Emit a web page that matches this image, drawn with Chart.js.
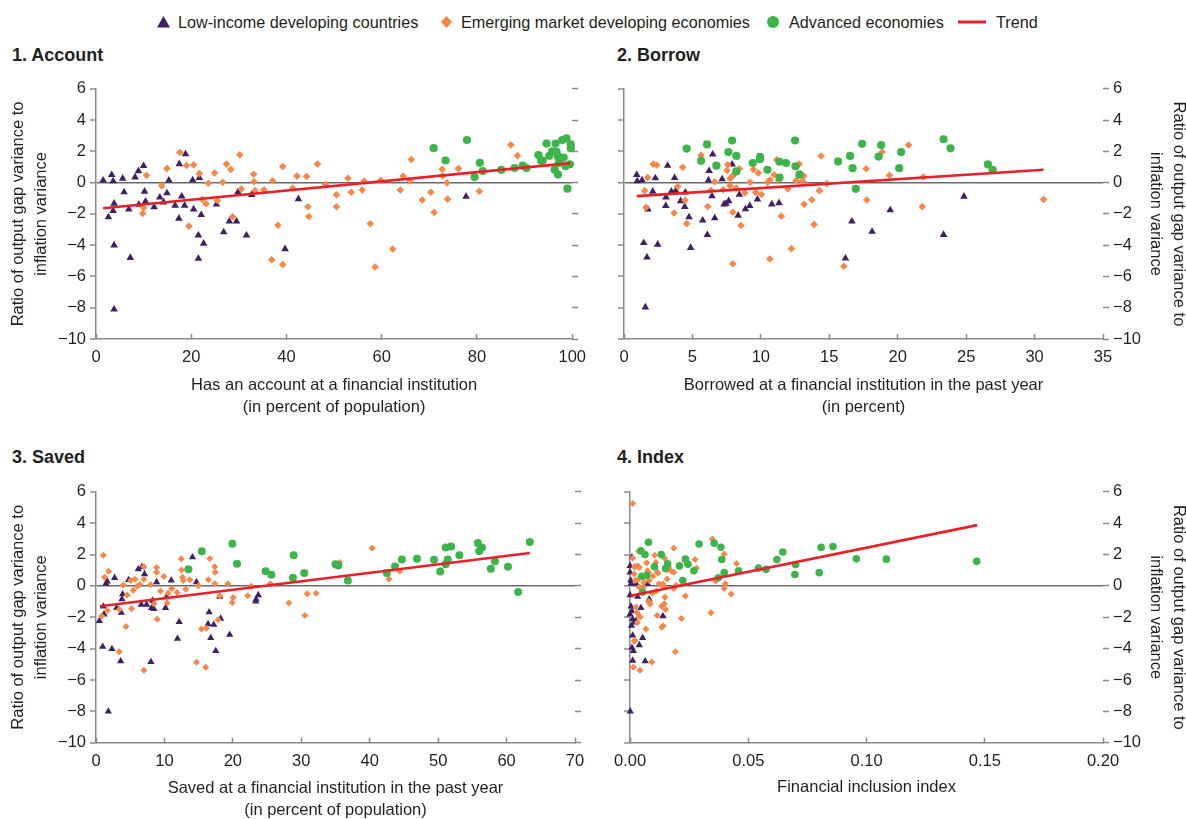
<!DOCTYPE html>
<html><head><meta charset="utf-8">
<script src="https://cdn.jsdelivr.net/npm/chart.js@4.4.0/dist/chart.umd.min.js"></script>
<style>
html,body{margin:0;padding:0;background:#fff;overflow:hidden;width:1186px;height:819px;}
body{position:relative;font-family:'Liberation Sans',Arial,sans-serif;color:#231f20;}
canvas{position:absolute;}
.ptitle{position:absolute;font-weight:bold;font-size:18px;line-height:18px;white-space:nowrap;}
.leg{position:absolute;font-size:16.2px;line-height:16.2px;white-space:nowrap;top:14px;}
.mk{position:absolute;}
</style></head>
<body>
<svg class="mk" style="left:157px;top:16px" width="13" height="12"><polygon points="0,11.5 6.5,0 13,11.5" fill="#3f2163"/></svg>
<span class="leg" style="left:178px">Low-income developing countries</span>
<svg class="mk" style="left:441px;top:16px" width="11" height="12"><polygon points="5.5,0 11,6 5.5,12 0,6" fill="#f5874a"/></svg>
<span class="leg" style="left:461px">Emerging market developing economies</span>
<svg class="mk" style="left:767px;top:16px" width="12" height="12"><circle cx="6" cy="6" r="6" fill="#3bb54a"/></svg>
<span class="leg" style="left:789px">Advanced economies</span>
<svg class="mk" style="left:958px;top:20px" width="28" height="4"><rect x="0" y="0.5" width="28" height="3" fill="#e8202a"/></svg>
<span class="leg" style="left:996px">Trend</span>

<div class="ptitle" style="left:12px;top:45.5px">1. Account</div>
<div class="ptitle" style="left:617px;top:45.5px">2. Borrow</div>
<div class="ptitle" style="left:12px;top:447.5px">3. Saved</div>
<div class="ptitle" style="left:617px;top:447.5px">4. Index</div>

<canvas id="c1" width="600" height="345" style="left:0;top:75px"></canvas>
<canvas id="c2" width="590" height="345" style="left:600px;top:75px"></canvas>
<canvas id="c3" width="600" height="344" style="left:0;top:478px"></canvas>
<canvas id="c4" width="590" height="344" style="left:600px;top:478px"></canvas>

<script>
// ---------- series names ----------
const seriesNames = ['Low-income developing countries', 'Emerging market developing economies', 'Advanced economies', 'Trend'];
const yTitleText = ['Ratio of output gap variance to', 'inflation variance'];

// ---------- Panel 1: Account ----------
const acctLIDC = [[1.5,0.15],[2.6,-2.2],[3.3,0.5],[3.6,0.1],[3.8,-1.33],[3.6,-1.8],[3.8,-4.0],[3.8,-8.1],[5.6,0.27],[5.9,-0.6],[6.9,-1.7],[7.2,-4.8],[8.2,0.35],[8.9,0.75],[9.0,-1.4],[10.0,1.08],[10.2,-0.56],[10.4,-1.2],[12.2,-1.56],[13.4,-0.94],[14.2,-1.25],[14.9,-0.67],[15.3,0.15],[16.6,-1.46],[17.4,-2.29],[17.5,1.2],[18.0,-0.87],[18.6,-1.46],[18.8,1.83],[20.3,0.17],[20.5,-1.7],[21.5,-3.37],[21.5,-4.86],[21.7,0.31],[22.1,-2.06],[22.6,-3.89],[25.3,-1.39],[26.8,-3.16],[28.0,-2.47],[29.5,-2.47],[29.8,-0.6],[31.6,-3.37],[32.7,-0.77],[39.7,-4.24],[42.5,-1.04],[77.7,-0.89]];
const acctEMDE = [[17.6,1.93],[19.0,1.1],[20.5,1.14],[10.6,0.48],[10.0,-1.6],[9.8,-1.97],[13.8,-0.2],[14.9,0.9],[19.5,-2.78],[21.7,0.58],[22.3,-1.08],[23.1,-1.35],[23.6,-0.04],[24.9,0.62],[25.5,-1.14],[26.6,0.02],[27.4,1.19],[28.3,0.85],[28.7,-2.18],[30.2,1.79],[30.5,-0.4],[33.1,0.54],[33.2,0.06],[33.4,-0.5],[35.3,-0.46],[37.1,0.12],[36.9,-4.93],[38.2,-2.72],[39.2,1.04],[39.2,-5.24],[41.3,-0.35],[42.2,0.42],[44.2,0.4],[44.5,-1.54],[44.7,-2.16],[46.5,1.2],[48.2,-0.12],[50.5,-0.77],[50.5,-1.54],[52.9,0.28],[53.6,-0.61],[55.9,-0.47],[56.3,0.11],[57.6,-2.63],[58.6,-5.39],[59.8,0.15],[62.3,-4.25],[63.9,-0.47],[64.5,0.41],[65.9,0.11],[66.2,1.48],[68.5,-1.11],[70.3,-0.61],[71.0,-1.9],[72.7,0.86],[72.8,0.44],[73.7,-0.01],[73.8,-1.05],[76.1,0.9],[80.5,-0.55],[87.1,2.42],[88.5,1.73]];
const acctAE = [[70.9,2.21],[73.4,1.42],[77.9,2.73],[79.5,0.36],[80.6,1.27],[81.2,0.74],[85.1,0.82],[87.9,0.94],[89.6,1.1],[90.4,0.94],[92.9,1.77],[93.5,1.38],[93.8,1.42],[94.6,2.5],[95.2,1.72],[95.8,2.01],[96.5,2.5],[96.7,1.97],[97.0,1.68],[97.2,1.27],[96.3,0.83],[97.0,0.52],[97.9,2.73],[98.8,2.83],[98.2,1.6],[98.6,1.06],[99.5,1.18],[99.7,2.45],[99.7,2.2],[99.0,-0.38]];
const acctTrend = [[1.5,-1.64],[99.6,1.25]];

// ---------- Panel 2: Borrow ----------
const borrowLIDC = [[0.93,0.51],[0.97,0.1],[1.32,0.16],[1.44,-3.85],[1.68,-4.78],[1.75,-1.71],[1.56,-7.97],[2.1,-0.56],[2.29,0.29],[2.46,-3.95],[3.07,-0.93],[3.05,-1.48],[3.19,1.09],[3.46,-0.56],[3.7,0.31],[3.78,-0.51],[4.14,-1.17],[4.48,-0.62],[4.44,-1.54],[4.75,-2.2],[4.87,-4.16],[5.75,-2.41],[6.09,-3.34],[6.17,0.16],[6.22,0.76],[6.43,-0.86],[6.48,1.81],[6.63,-2.27],[7.17,0.23],[7.31,-1.38],[7.46,-1.34],[7.65,-1.17],[7.9,1.17],[8.34,-2.1],[8.43,-0.76],[8.87,-1.69],[9.19,-1.48],[9.75,-1.07],[10.8,-1.38],[11.33,-1.3],[16.18,-4.84],[16.65,-2.47],[18.13,-3.13],[19.45,-1.75],[24.84,-0.88],[23.35,-3.33]];
const borrowEMDE = [[1.51,-0.51],[1.61,-1.59],[1.73,0.33],[2.14,1.19],[2.39,1.13],[3.66,-1.94],[3.92,-0.25],[4.29,0.99],[4.46,-1.13],[4.58,-2.62],[5.63,1.75],[6.12,-1.52],[6.34,-0.49],[6.63,0.06],[7.26,-0.45],[7.53,0.78],[7.58,1.15],[7.75,-0.19],[7.75,0.27],[7.92,0.41],[8.04,0.54],[7.95,-1.89],[7.95,-5.19],[8.19,-0.35],[8.43,0.89],[8.55,-2.74],[8.82,-0.66],[9.21,0.02],[9.46,0.84],[9.63,-0.62],[9.82,0.62],[10.04,-0.76],[10.5,0.02],[10.65,-4.88],[10.67,0.19],[10.97,0.51],[11.16,1.46],[11.3,0.16],[11.5,-2.14],[11.97,-0.39],[12.23,-4.22],[12.58,0.14],[12.8,1.19],[12.89,0.58],[13.04,0.1],[13.14,0.43],[13.16,-1.38],[13.72,-1.09],[13.89,-2.68],[14.28,-0.51],[14.4,1.71],[14.82,-0.06],[16.06,-5.35],[17.69,0.89],[17.74,-1.11],[18.86,1.96],[19.4,0.47],[20.79,2.41],[21.8,-1.54],[21.87,0.37],[30.66,-1.07]];
const borrowAE = [[4.58,2.18],[5.63,1.4],[6.07,2.45],[6.75,1.09],[7.63,1.96],[7.9,2.7],[8.21,1.71],[8.21,0.72],[9.41,1.26],[9.94,1.65],[9.94,1.5],[10.48,0.82],[11.36,1.34],[11.36,0.33],[11.84,1.26],[12.5,2.7],[12.53,1.05],[12.82,0.51],[15.65,1.36],[16.52,1.71],[16.7,0.93],[16.94,-0.39],[17.4,2.49],[18.6,1.67],[18.79,2.41],[20.25,1.96],[20.11,0.93],[23.35,2.78],[23.86,2.2],[26.59,1.17],[26.93,0.82]];
const borrowTrend = [[0.93,-0.86],[30.66,0.83]];

// ---------- Panel 3: Saved ----------
const savedLIDC = [[0.49,-2.23],[0.97,-3.88],[1.07,-1.3],[1.17,-1.81],[1.46,0.14],[1.65,0.29],[1.8,-8.0],[2.33,-4.02],[2.72,0.52],[3.01,-1.4],[3.6,-4.8],[3.69,-1.71],[3.79,-0.85],[3.89,-0.52],[4.76,0.39],[6.17,1.07],[6.61,-1.2],[6.71,1.22],[7.1,0.76],[7.39,-1.2],[8.12,-1.4],[8.26,-0.93],[8.46,-1.46],[8.02,-4.85],[8.85,0.25],[10.16,-1.4],[10.3,-0.72],[10.99,0.35],[11.91,-3.36],[12.15,-2.29],[14.1,1.84],[14.68,0.25],[16.53,-1.67],[16.38,-2.43],[16.77,-3.32],[17.21,-2.47],[17.5,-4.14],[18.08,-0.68],[18.23,-2.08],[19.54,-3.11],[23.34,-0.99],[23.4,-0.85],[23.72,-0.58]];
const savedEMDE = [[1.07,1.96],[0.83,-1.92],[1.26,0.56],[1.65,-1.57],[1.85,0.93],[3.4,-4.19],[3.99,0.06],[4.38,-2.58],[4.57,-0.58],[3.4,-1.5],[5.06,0.35],[5.2,-1.46],[5.44,-0.27],[5.69,0.43],[6.03,-0.02],[6.42,0.1],[7.0,1.22],[7.0,0.43],[7.0,-5.38],[7.97,0.08],[8.46,-1.13],[8.85,1.18],[8.85,0.87],[8.95,-2.12],[9.43,-0.33],[9.92,0.6],[10.4,-1.09],[10.55,-0.47],[11.08,-0.16],[11.86,-0.41],[12.45,1.73],[12.5,1.01],[12.64,0.56],[12.74,0.35],[13.13,-0.21],[13.71,0.39],[14.97,0.02],[14.68,-4.87],[15.41,-2.74],[16.14,-2.7],[16.04,-5.18],[16.43,0.39],[16.63,1.75],[17.36,1.22],[17.41,0.87],[17.36,0.14],[17.84,-2.16],[18.08,-0.64],[19.25,0.14],[19.93,-1.05],[20.03,-0.74],[22.17,-0.62],[22.7,-0.02],[25.47,0.14],[28.2,-1.09],[30.53,-1.88],[30.87,-0.49],[32.18,-0.47],[35.6,1.49],[40.35,2.41],[42.8,0.45],[44.4,0.93]];
const savedAE = [[13.51,1.07],[15.46,2.21],[19.93,2.7],[20.61,1.42],[24.79,0.93],[25.62,0.72],[28.88,1.96],[28.78,0.52],[30.43,0.82],[35.0,1.38],[35.39,1.3],[36.8,0.35],[42.5,0.83],[43.7,1.24],[44.7,1.69],[46.9,1.73],[49.4,1.67],[50.3,0.92],[51.1,1.38],[51.1,2.45],[51.4,1.69],[51.9,2.52],[53.1,1.96],[55.8,2.74],[56.0,2.23],[56.4,2.45],[57.7,1.09],[58.3,1.57],[60.2,1.22],[61.7,-0.39],[63.4,2.8]];
const savedTrend = [[0.58,-1.3],[63.4,2.1]];

// ---------- Panel 4: Index ----------
const indexLIDC = [[0.0001,-8.0],[0.0008,1.84],[0.0,1.28],[0.0,0.87],[0.0003,0.35],[0.0004,0.14],[0.0,-0.58],[0.0004,-1.3],[0.0008,-1.61],[0.0,-1.81],[0.0011,-2.12],[0.0018,-2.33],[0.0025,-2.23],[0.0006,-2.54],[0.0011,-3.15],[0.0008,-3.94],[0.0014,-4.14],[0.0011,-4.76],[0.0039,-3.77],[0.0053,-3.32],[0.0064,-4.8],[0.0046,-1.4],[0.0081,-0.85],[0.0139,-1.92],[0.0032,-0.68],[0.0025,0.14],[0.0074,0.14]];
const indexEMDE = [[0.0011,5.26],[0.0036,2.21],[0.0011,1.79],[0.007,1.48],[0.0104,1.96],[0.0109,1.5],[0.0185,2.41],[0.0147,1.75],[0.0175,0.93],[0.0185,0.87],[0.0275,1.69],[0.0281,1.13],[0.0348,2.99],[0.0398,2.04],[0.045,1.44],[0.0157,0.45],[0.0122,0.14],[0.0081,0.35],[0.0039,1.18],[0.0018,1.22],[0.0022,0.35],[0.0039,-0.06],[0.0195,0.04],[0.0234,-0.64],[0.0185,-0.16],[0.0147,-0.72],[0.0145,-1.13],[0.0134,-1.3],[0.015,-1.5],[0.0081,-1.05],[0.0085,-1.15],[0.0115,-1.88],[0.0134,-2.64],[0.014,-2.55],[0.0217,-2.08],[0.0192,-4.19],[0.0342,-1.71],[0.0362,0.31],[0.0398,-0.16],[0.0403,0.14],[0.0428,-0.52],[0.0067,-2.74],[0.0039,-1.92],[0.0025,-1.34],[0.003,-1.7],[0.0018,-3.53],[0.0014,-5.18],[0.0042,-5.38],[0.0092,-4.85],[0.0056,-0.06],[0.0095,-0.47],[0.0074,0.97],[0.0115,0.87],[0.0143,-0.06],[0.0164,1.18],[0.0024,1.24],[0.0033,1.28],[0.0018,0.76],[0.0033,0.41],[0.0058,0.24],[0.0078,0.83],[0.0097,0.62],[0.0118,0.83],[0.0156,1.04],[0.0139,0.12],[0.0111,-0.33],[0.0079,-0.98],[0.002,-3.46],[0.0031,-2.33],[0.0042,-1.98]];
const indexAE = [[0.0078,2.78],[0.0046,2.25],[0.0063,2.0],[0.0132,2.0],[0.0103,1.22],[0.0159,1.42],[0.015,1.11],[0.0209,1.28],[0.0234,1.71],[0.0245,1.38],[0.0223,0.35],[0.027,0.97],[0.0292,2.68],[0.0356,2.72],[0.0384,2.47],[0.0388,1.69],[0.0398,0.85],[0.0373,0.52],[0.0459,0.97],[0.005,0.62],[0.007,0.66],[0.0053,-0.39],[0.0543,1.14],[0.0575,1.06],[0.0621,1.68],[0.0646,2.17],[0.07,1.37],[0.0697,0.73],[0.08,0.85],[0.0808,2.46],[0.0858,2.52],[0.0957,1.73],[0.1084,1.71],[0.1466,1.57]];
const indexTrend = [[0.0003,-0.62],[0.1468,3.88]];

// ---------- styling ----------
const FONT = "'Liberation Sans',Arial,sans-serif";
const FS = 16.5;
const PURPLE = '#3f2163', ORANGE = '#f5874a', GREEN = '#3bb54a', RED = '#e8202a';
const AXIS = '#8a8a8a', ZERO = '#6a6a6a', TXT = '#231f20';
Chart.defaults.font.family = FONT;
Chart.defaults.color = TXT;

const xy = a => a.map(([x, y]) => ({x, y}));
const yFmt = v => v < 0 ? '\u2212' + Math.abs(v) : String(v);

function buildPanel(id, p) {
  const yTicks = show => ({stepSize: 2, display: show, padding: 4, color: TXT, font: {size: FS}, callback: yFmt});
  const yTitle = (show, pad) => ({display: show, text: yTitleText, color: TXT, font: {size: FS, lineHeight: 1.36}, padding: {top: pad, bottom: 0}});
  new Chart(document.getElementById(id), {
    type: 'scatter',
    data: {datasets: [
      {label: seriesNames[3], data: xy(p.trend), showLine: true, borderColor: RED, borderWidth: 2.6, pointRadius: 0, order: 0, clip: false},
      {label: seriesNames[2], data: xy(p.ae), pointStyle: 'circle', pointRadius: p.r[2], backgroundColor: GREEN, borderColor: GREEN, pointBorderWidth: 0, order: 1, clip: false},
      {label: seriesNames[1], data: xy(p.emde), pointStyle: 'rectRot', pointRadius: p.r[1], backgroundColor: ORANGE, borderColor: ORANGE, pointBorderWidth: 0, order: 2, clip: false},
      {label: seriesNames[0], data: xy(p.lidc), pointStyle: 'triangle', pointRadius: p.r[0], backgroundColor: PURPLE, borderColor: PURPLE, pointBorderWidth: 0, order: 3, clip: false}
    ]},
    options: {
      responsive: false, devicePixelRatio: 1, animation: false,
      layout: {padding: {top: p.padTop, left: 0, right: 0, bottom: 0}},
      plugins: {legend: {display: false}, tooltip: {enabled: false}, title: {display: false}},
      scales: {
        x: {
          type: 'linear', position: 'bottom', min: p.xMin, max: p.xMax,
          afterFit: s => { s.height = p.xH; },
          ticks: {stepSize: p.xStep, autoSkip: false, maxRotation: 0, padding: 14, color: TXT, font: {size: FS}, callback: p.xFmt},
          grid: {drawOnChartArea: false, drawTicks: true, tickLength: -5, tickColor: AXIS, tickWidth: 1.5},
          border: {display: true, color: AXIS, width: 1.5},
          title: {display: true, text: p.xTitle, color: TXT, font: {size: FS, lineHeight: 1.36}, padding: {top: 0, bottom: p.xTitlePad}}
        },
        y: {
          type: 'linear', position: 'left', min: -10, max: 6,
          afterFit: s => { s.width = p.yW; },
          ticks: yTicks(p.labelsLeft),
          grid: {drawOnChartArea: true, drawTicks: true, tickLength: 6, tickColor: AXIS, tickWidth: 1.5,
                 color: c => (c.tick && c.tick.value === 0) ? ZERO : 'rgba(0,0,0,0)',
                 lineWidth: c => (c.tick && c.tick.value === 0) ? 1.5 : 0},
          border: {display: true, color: AXIS, width: 1.5},
          title: yTitle(p.labelsLeft, 7.5)
        },
        y2: {
          type: 'linear', axis: 'y', position: 'right', min: -10, max: 6,
          afterFit: s => { s.width = p.y2W; },
          ticks: yTicks(!p.labelsLeft),
          grid: {drawOnChartArea: false, drawTicks: true, tickLength: 6, tickColor: AXIS, tickWidth: 1.5},
          border: {display: false},
          title: yTitle(!p.labelsLeft, 0.5)
        }
      }
    }
  });
}

const intFmt = v => String(v);
buildPanel('c1', {lidc: acctLIDC, emde: acctEMDE, ae: acctAE, trend: acctTrend,
  xMin: 0, xMax: 100, xStep: 20, xFmt: intFmt,
  xTitle: ['Has an account at a financial institution', '(in percent of population)'], xTitlePad: 1,
  labelsLeft: true, yW: 96, y2W: 25, padTop: 6.5, xH: 81, r: [4.4, 3.8, 4.1]});
buildPanel('c2', {lidc: borrowLIDC, emde: borrowEMDE, ae: borrowAE, trend: borrowTrend,
  xMin: 0, xMax: 35, xStep: 5, xFmt: intFmt,
  xTitle: ['Borrowed at a financial institution in the past year', '(in percent)'], xTitlePad: 1,
  labelsLeft: false, yW: 24, y2W: 87, padTop: 6.5, xH: 81, r: [4.4, 3.8, 4.1]});
buildPanel('c3', {lidc: savedLIDC, emde: savedEMDE, ae: savedAE, trend: savedTrend,
  xMin: 0, xMax: 70, xStep: 10, xFmt: intFmt,
  xTitle: ['Saved at a financial institution in the past year', '(in percent of population)'], xTitlePad: 0,
  labelsLeft: true, yW: 96, y2W: 25, padTop: 6, xH: 79.3, r: [4.2, 3.5, 4.0]});
buildPanel('c4', {lidc: indexLIDC, emde: indexEMDE, ae: indexAE, trend: indexTrend,
  xMin: 0, xMax: 0.2, xStep: 0.05, xFmt: v => Number(v).toFixed(2),
  xTitle: 'Financial inclusion index', xTitlePad: 23,
  labelsLeft: false, yW: 24, y2W: 87, padTop: 5.5, xH: 79.3, r: [4.2, 3.5, 3.8]});
</script>
</body></html>
